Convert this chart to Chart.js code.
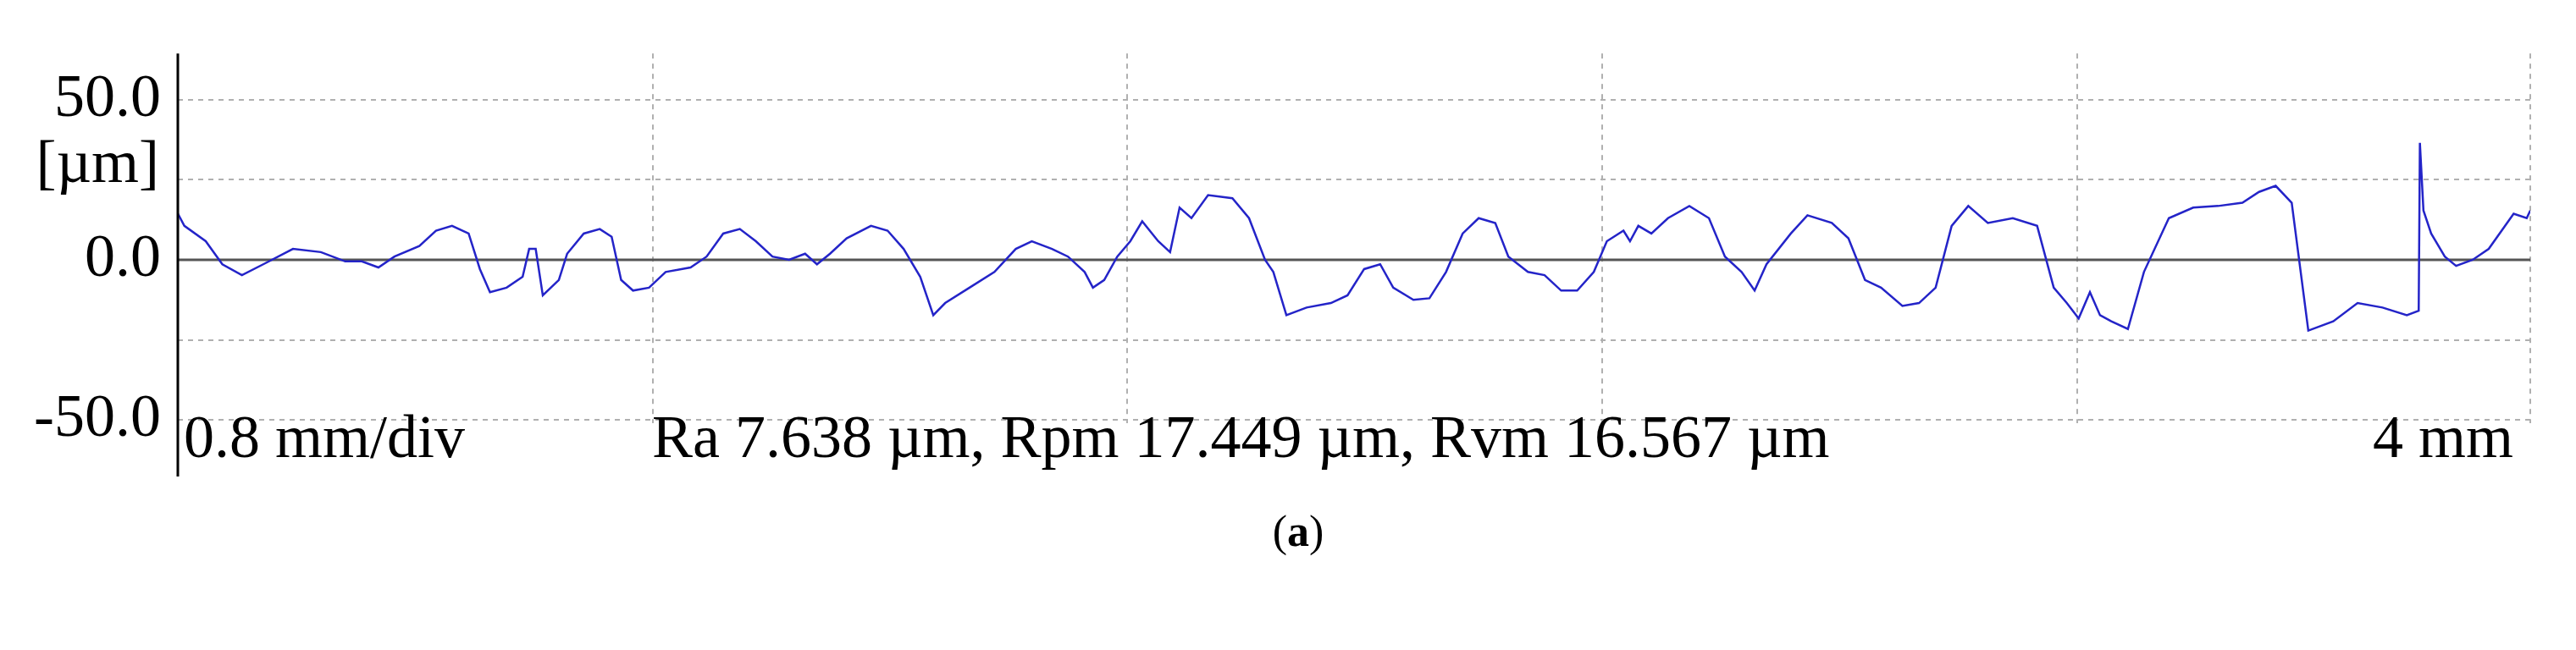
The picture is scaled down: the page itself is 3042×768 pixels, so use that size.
<!DOCTYPE html>
<html><head><meta charset="utf-8">
<script src="https://cdn.jsdelivr.net/npm/chart.js@4"></script>
<style>html,body{margin:0;padding:0;background:#fff}#c{display:block}</style>
</head><body>
<canvas id="c" width="3042" height="768"></canvas>
<script>
const positionMm = [0.000,0.011,0.047,0.075,0.108,0.144,0.194,0.241,0.282,0.310,0.338,0.365,0.407,0.435,0.462,0.490,0.509,0.526,0.554,0.581,0.592,0.603,0.615,0.642,0.656,0.684,0.711,0.731,0.747,0.767,0.794,0.822,0.864,0.891,0.919,0.947,0.974,1.002,1.030,1.057,1.077,1.099,1.127,1.168,1.196,1.223,1.251,1.273,1.293,1.334,1.376,1.412,1.439,1.473,1.500,1.528,1.542,1.561,1.583,1.605,1.625,1.652,1.672,1.688,1.708,1.736,1.777,1.805,1.832,1.846,1.868,1.902,1.943,1.971,1.999,2.026,2.048,2.082,2.109,2.137,2.165,2.192,2.220,2.242,2.275,2.303,2.331,2.358,2.386,2.408,2.436,2.447,2.461,2.483,2.511,2.547,2.580,2.607,2.635,2.657,2.677,2.718,2.746,2.787,2.815,2.843,2.870,2.906,2.934,2.962,2.989,3.017,3.050,3.092,3.133,3.161,3.183,3.203,3.222,3.239,3.258,3.286,3.313,3.355,3.396,3.438,3.479,3.507,3.535,3.562,3.590,3.632,3.673,3.715,3.756,3.776,3.778,3.784,3.797,3.820,3.839,3.867,3.894,3.936,3.958,3.964];
const heightUm = [14.4,10.6,5.8,-1.4,-4.8,-1.4,3.4,2.4,-0.5,-0.5,-2.4,1.0,4.3,9.1,10.6,8.2,-2.9,-10.1,-8.7,-5.3,3.4,3.4,-11.1,-6.3,1.9,8.2,9.6,7.2,-6.3,-9.6,-8.7,-3.8,-2.4,1.0,8.2,9.6,5.8,1.0,0.0,1.9,-1.4,1.9,6.7,10.6,9.1,3.4,-5.3,-17.3,-13.5,-8.7,-3.8,3.4,5.8,3.4,1.0,-3.8,-8.7,-6.3,1.0,5.8,12.0,5.8,2.4,16.3,13.0,20.2,19.2,13.0,0.0,-3.8,-17.3,-14.9,-13.5,-11.1,-2.9,-1.4,-8.7,-12.5,-12.0,-3.8,8.2,13.0,11.5,1.0,-3.8,-4.8,-9.6,-9.6,-3.8,5.8,9.1,5.8,10.6,8.2,13.0,16.8,13.0,1.0,-3.8,-9.6,-1.4,8.2,13.9,11.5,6.7,-6.3,-8.7,-14.4,-13.5,-8.7,10.6,16.8,11.5,13.0,10.6,-8.7,-13.5,-18.3,-10.1,-17.3,-19.2,-21.6,-3.8,13.0,16.3,16.8,17.8,21.2,23.1,17.8,-22.1,-19.2,-13.5,-14.9,-17.3,-15.9,36.5,15.4,8.2,1.0,-1.9,0.0,3.4,14.4,13.0,15.4];
const yTickLabels = {"50":"50.0","0":"0.0","-50":"-50.0"};
const unitLabel = "[µm]";
const leftNote = "0.8 mm/div";
const midNote = "Ra 7.638 µm, Rpm 17.449 µm, Rvm 16.567 µm";
const rightNote = "4 mm";
const caption = "a";

const FONT = '"Liberation Serif", "Times New Roman", serif';
const extras = {
  id:'extras',
  beforeDatasetsDraw(ch){
    const c = ch.ctx, a = ch.chartArea, y0 = ch.scales.y.getPixelForValue(0);
    c.save(); c.strokeStyle='#555'; c.lineWidth=3;
    c.beginPath(); c.moveTo(a.left,y0); c.lineTo(a.right,y0); c.stroke(); c.restore();
  },
  afterDraw(ch){
    const c = ch.ctx, a = ch.chartArea;
    c.save();
    c.strokeStyle='#000'; c.lineWidth=3;
    c.beginPath(); c.moveTo(a.left, a.top); c.lineTo(a.left, 563); c.stroke();
    c.fillStyle='#000'; c.font='72px '+FONT; c.textBaseline='alphabetic';
    c.textAlign='right'; c.fillText(unitLabel, 188, 215);
    c.textAlign='left'; c.fillText(leftNote, 217, 540); c.fillText(midNote, 770, 540);
    c.textAlign='right'; c.fillText(rightNote, 2968, 540);
    c.font='52px '+FONT;
    const w1=c.measureText('(').width; const w2=c.measureText(')').width;
    c.font='bold 52px '+FONT; const wb=c.measureText(caption).width;
    const x0=1533-(w1+wb+w2)/2;
    c.textAlign='left';
    c.font='52px '+FONT; c.fillText('(',x0,645);
    c.font='bold 52px '+FONT; c.fillText(caption,x0+w1,645);
    c.font='52px '+FONT; c.fillText(')',x0+w1+wb,645);
    c.restore();
  }
};
new Chart(document.getElementById('c'),{
  type:'line',
  data:{datasets:[{data:positionMm.map((x,i)=>({x,y:heightUm[i]})),borderColor:'#2424c8',borderWidth:2.5,pointRadius:0,tension:0}]},
  options:{
    responsive:false,animation:false,
    layout:{padding:{left:0,right:54,top:35,bottom:268}},
    plugins:{legend:{display:false},tooltip:{enabled:false}},
    scales:{
      x:{type:'linear',min:0,max:3.964,
        afterBuildTicks(s){s.ticks=[0.8,1.6,2.4,3.2,3.964].map(v=>({value:v}));},
        afterFit(s){s.height=0;},
        ticks:{display:false},border:{display:false,dash:[6,6]},
        grid:{color:'#b0b0b0',lineWidth:2,drawTicks:false}},
      y:{min:-51,max:64.4,
        afterBuildTicks(s){s.ticks=[-50,-25,0,25,50].map(v=>({value:v}));},
        afterFit(s){s.width=210;},
        border:{display:false,dash:[6,6]},
        ticks:{color:'#000',font:{family:FONT,size:72},padding:20,
          callback:v=>yTickLabels[String(v)]||''},
        grid:{drawTicks:false,lineWidth:2,
          color:ctx=>ctx.tick&&ctx.tick.value===0?'rgba(0,0,0,0)':'#b0b0b0'}}
    }
  },
  plugins:[extras]
});
</script>
</body></html>
